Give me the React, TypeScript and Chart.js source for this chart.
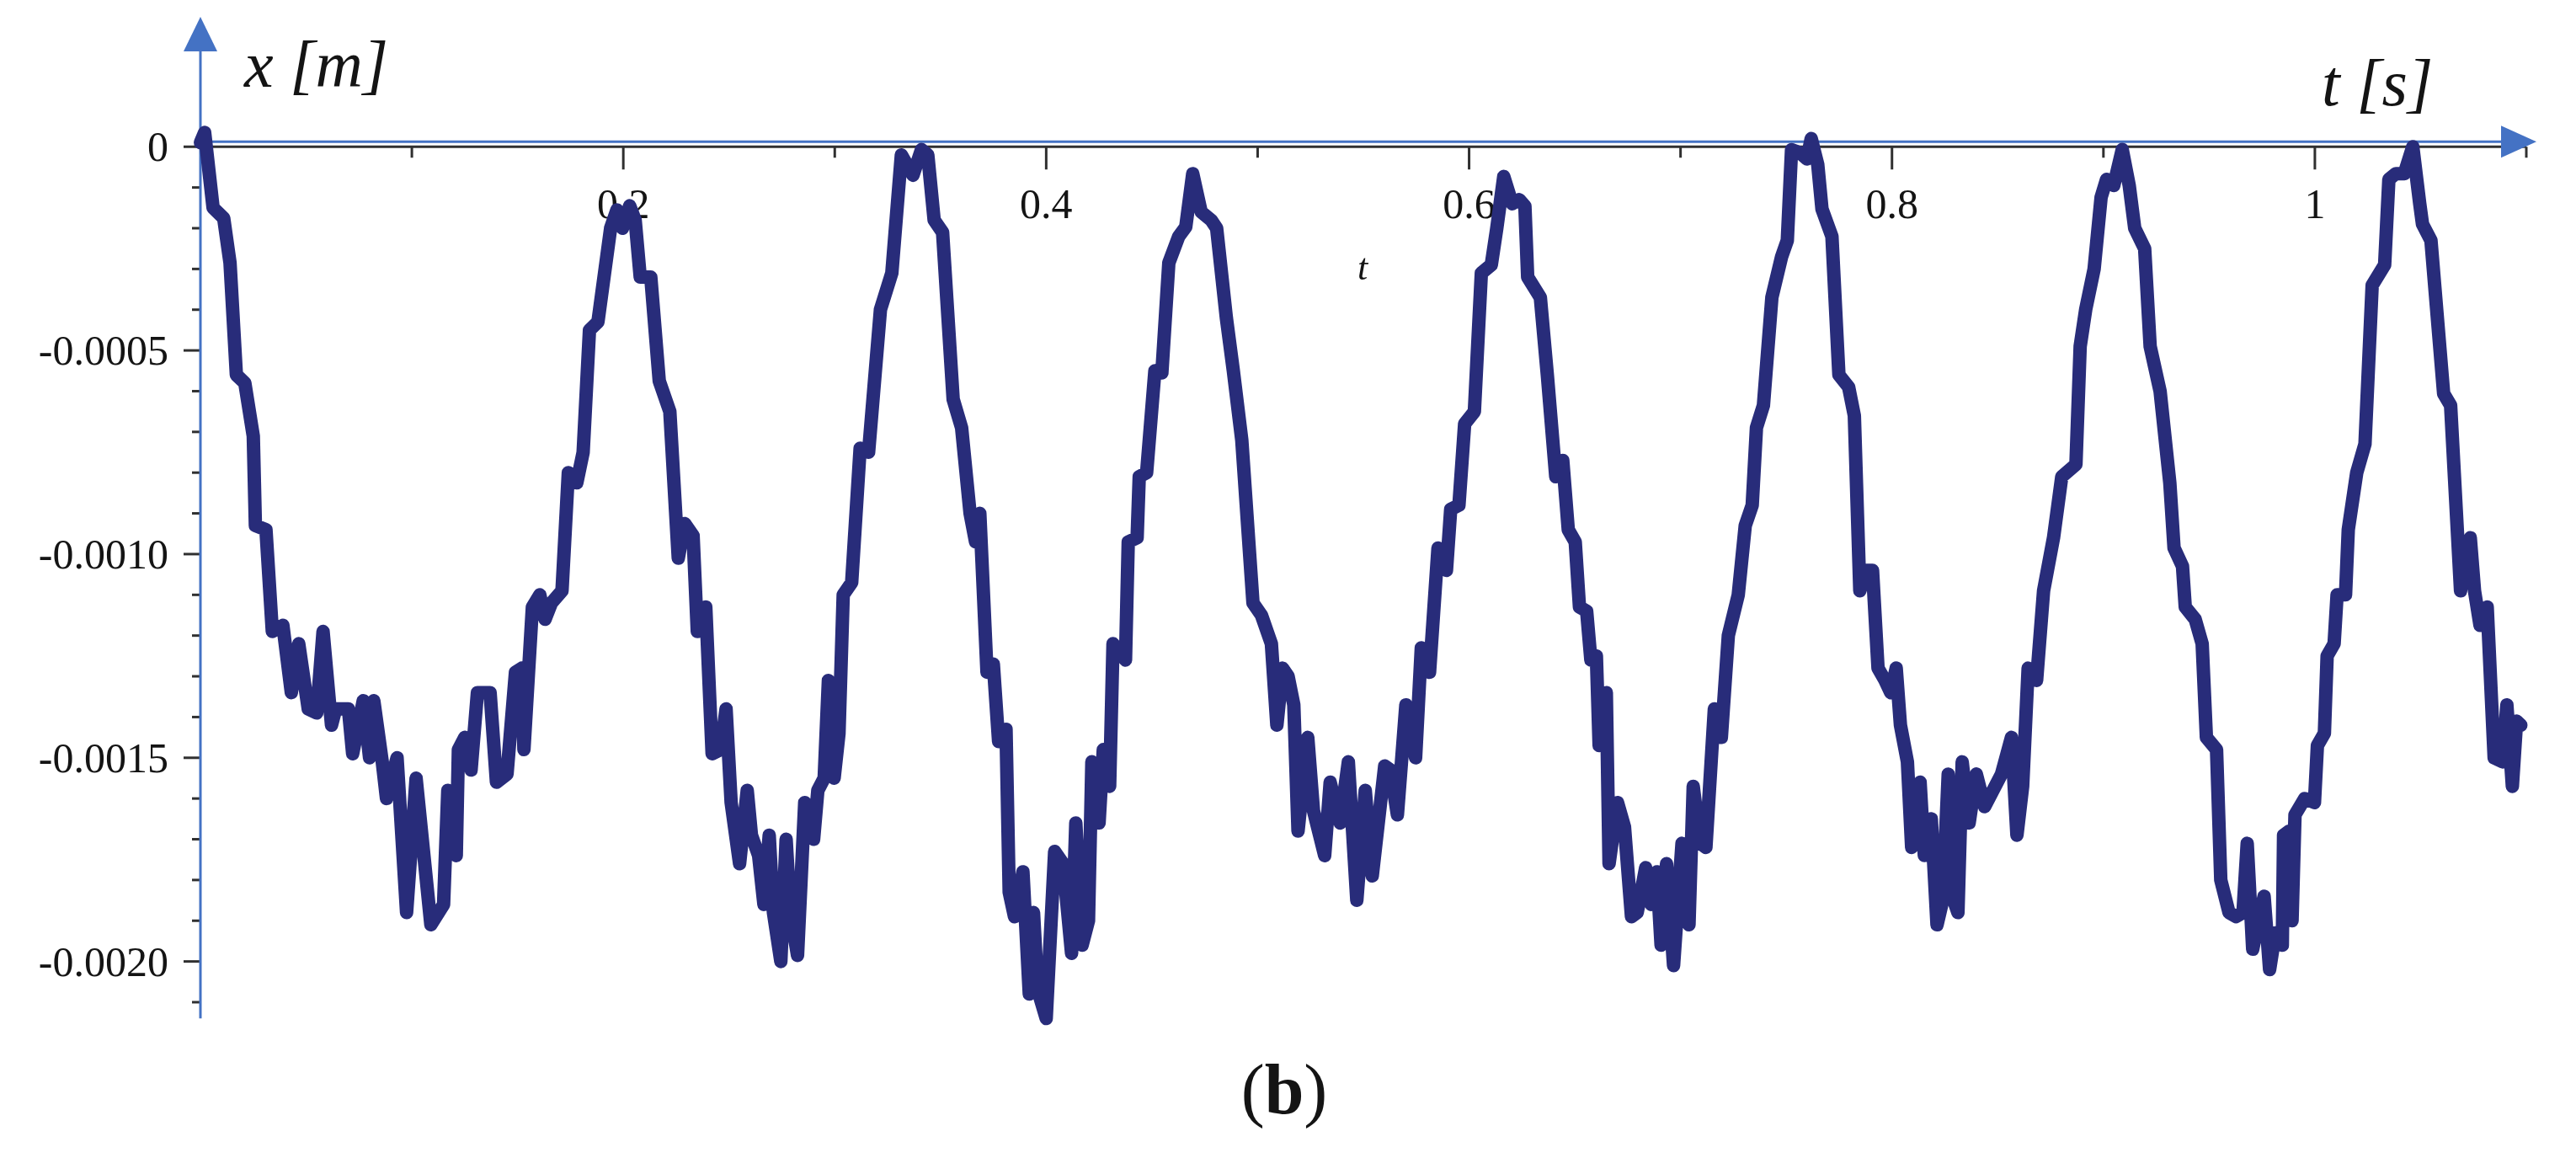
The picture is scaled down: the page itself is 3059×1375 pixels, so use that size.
import React, { useEffect, useRef } from 'react';
import { Chart, registerables } from 'chart.js';

Chart.register(...registerables);

// time t [s]
const timeS = [
  0.000, 0.002, 0.006, 0.011, 0.014, 0.017, 0.021, 0.025, 0.026, 0.031,
  0.034, 0.039, 0.043, 0.0465, 0.051, 0.055, 0.058, 0.062, 0.064, 0.070,
  0.072, 0.077, 0.080, 0.082, 0.086, 0.088, 0.093, 0.0975, 0.102, 0.109,
  0.115, 0.117, 0.121, 0.122, 0.125, 0.128, 0.131, 0.137, 0.140, 0.145,
  0.149, 0.152, 0.153, 0.157, 0.1605, 0.163, 0.166, 0.171, 0.174, 0.178,
  0.181, 0.184, 0.188, 0.194, 0.197, 0.1996, 0.203, 0.2056, 0.208, 0.213,
  0.217, 0.222, 0.226, 0.229, 0.233, 0.235, 0.239, 0.242, 0.246, 0.2486,
  0.251, 0.255, 0.2586, 0.2606, 0.264, 0.2665, 0.269, 0.271, 0.2745, 0.277,
  0.279, 0.2824, 0.2858, 0.290, 0.292, 0.295, 0.297, 0.2997, 0.302, 0.304,
  0.308, 0.312, 0.316, 0.3216, 0.327, 0.3315, 0.337, 0.341, 0.344, 0.347,
  0.351, 0.356, 0.360, 0.364, 0.3666, 0.3686, 0.372, 0.375, 0.3775, 0.381,
  0.3825, 0.385, 0.389, 0.392, 0.394, 0.396, 0.400, 0.404, 0.408, 0.412,
  0.414, 0.417, 0.420, 0.4216, 0.425, 0.427, 0.430, 0.4316, 0.4375, 0.4388,
  0.443, 0.444, 0.4475, 0.4514, 0.4547, 0.458, 0.4627, 0.466, 0.4693, 0.4733,
  0.478, 0.4806, 0.4852, 0.4885, 0.4925, 0.4978, 0.5018, 0.5065, 0.5091, 0.5118,
  0.5144, 0.5171, 0.5191, 0.5237, 0.5264, 0.5317, 0.5343, 0.539, 0.5429, 0.5469,
  0.5509, 0.5542, 0.5601, 0.5628, 0.5661, 0.5701, 0.5747, 0.5774, 0.5813, 0.5853,
  0.5893, 0.5913, 0.5952, 0.5979, 0.6025, 0.6058, 0.6105, 0.6131, 0.6164, 0.6204,
  0.6237, 0.6264, 0.6277, 0.6337, 0.637, 0.641, 0.6443, 0.6469, 0.6502, 0.6522,
  0.6556, 0.6576, 0.6602, 0.6615, 0.6649, 0.6662, 0.6702, 0.6735, 0.6768, 0.6795,
  0.6835, 0.6861, 0.6888, 0.6908, 0.6934, 0.6967, 0.7007, 0.704, 0.706, 0.7093,
  0.712, 0.716, 0.7193, 0.7226, 0.7273, 0.7306, 0.7339, 0.7359, 0.7392, 0.7432,
  0.7478, 0.7505, 0.7525, 0.7565, 0.7598, 0.7618, 0.7649, 0.7669, 0.7716, 0.7749,
  0.7795, 0.7822, 0.7848, 0.7881, 0.7908, 0.7934, 0.7967, 0.7994, 0.802, 0.804,
  0.8073, 0.8093, 0.8133, 0.8153, 0.8186, 0.8213, 0.824, 0.8266, 0.8292, 0.8312,
  0.8332, 0.8365, 0.8399, 0.8438, 0.8518, 0.8565, 0.8591, 0.8618, 0.8644, 0.8684,
  0.8717, 0.8764, 0.8803, 0.887, 0.889, 0.8916, 0.8956, 0.8989, 0.9015, 0.9049,
  0.9089, 0.9122, 0.9148, 0.9195, 0.9221, 0.9268, 0.9314, 0.9334, 0.9374, 0.9387,
  0.9434, 0.9467, 0.9487, 0.9535, 0.9555, 0.9594, 0.9627, 0.966, 0.968, 0.9706,
  0.9733, 0.976, 0.9786, 0.9813, 0.9846, 0.9852, 0.9879, 0.9892, 0.9906, 0.9952,
  0.9998, 1.0012, 1.0045, 1.0058, 1.0091, 1.0105, 1.0145, 1.0158, 1.0198, 1.0237,
  1.0271, 1.033, 1.035, 1.0383, 1.0423, 1.0463, 1.0496, 1.0509, 1.0549, 1.0609,
  1.0642, 1.0689, 1.0735, 1.0755, 1.0781, 1.0815, 1.0848, 1.0888, 1.0908, 1.0934,
  1.0954, 1.0974,
];

// displacement x, in units of 1e-4 m
const displacementE4 = [
  0.1, 0.35, -1.5, -1.75, -2.85, -5.6, -5.8, -7.1, -9.3, -9.4,
  -11.9, -11.75, -13.4, -12.2, -13.8, -13.9, -11.9, -14.2, -13.8, -13.8,
  -14.9, -13.6, -15.0, -13.6, -15.1, -16.0, -15.0, -18.8, -15.5, -19.1,
  -18.6, -15.8, -17.4, -14.8, -14.5, -15.3, -13.4, -13.4, -15.6, -15.4,
  -12.9, -12.8, -14.8, -11.3, -11.0, -11.6, -11.2, -10.9, -8.0, -8.25,
  -7.5, -4.5, -4.3, -2.0, -1.55, -2.0, -1.45, -1.8, -3.2, -3.2,
  -5.75, -6.5, -10.1, -9.25, -9.55, -11.9, -11.3, -14.9, -14.8, -13.8,
  -16.1, -17.6, -15.8, -16.9, -17.4, -18.6, -16.9, -18.8, -20.0, -17.0,
  -18.8, -19.85, -16.1, -17.0, -15.8, -15.5, -13.1, -15.5, -14.4, -11.0,
  -10.7, -7.4, -7.5, -4.0, -3.1, -0.2, -0.7, -0.07, -0.2, -1.8,
  -2.1, -6.2, -6.9, -9.0, -9.7, -9.0, -12.9, -12.7, -14.6, -14.3,
  -18.3, -18.9, -17.8, -20.8, -18.8, -20.7, -21.4, -17.3, -17.6, -19.8,
  -16.6, -19.6, -19.0, -15.1, -16.6, -14.8, -15.7, -12.2, -12.6, -9.7,
  -9.6, -8.1, -8.0, -5.5, -5.55, -2.85, -2.2, -1.97, -0.66, -1.6,
  -1.8, -2.0, -4.2, -5.5, -7.2, -11.2, -11.5, -12.2, -14.2, -12.8,
  -13.0, -13.7, -16.8, -14.5, -16.3, -17.4, -15.6, -16.6, -15.1, -18.5,
  -15.8, -17.9, -15.2, -15.3, -16.4, -13.7, -15.0, -12.3, -12.9, -9.85,
  -10.4, -8.9, -8.8, -6.8, -6.5, -3.1, -2.9, -2.0, -0.73, -1.4,
  -1.3, -1.46, -3.2, -3.7, -5.6, -8.1, -7.7, -9.4, -9.7, -11.3,
  -11.4, -12.6, -12.5, -14.7, -13.4, -17.6, -16.1, -16.7, -18.9, -18.8,
  -17.7, -18.6, -17.8, -19.6, -17.6, -20.1, -17.1, -19.1, -15.7, -17.1,
  -17.2, -13.8, -14.5, -12.0, -11.0, -9.3, -8.8, -6.9, -6.35, -3.7,
  -2.7, -2.3, -0.07, -0.15, -0.3, 0.2, -0.44, -1.53, -2.2, -5.6,
  -5.9, -6.6, -10.9, -10.4, -10.4, -12.8, -13.1, -13.4, -12.8, -14.2,
  -15.1, -17.2, -15.6, -17.4, -16.5, -19.1, -18.5, -15.4, -18.5, -18.8,
  -15.1, -16.6, -15.4, -16.2, -15.4, -14.5, -16.9, -15.7, -12.8, -13.1,
  -10.9, -9.6, -8.1, -7.8, -4.9, -4.0, -3.0, -1.24, -0.8, -0.95,
  -0.07, -0.95, -2.0, -2.5, -4.9, -6.0, -8.25, -9.85, -10.3, -11.3,
  -11.6, -12.2, -14.5, -14.8, -18.0, -18.8, -18.9, -18.8, -17.1, -19.7,
  -19.0, -18.4, -20.2, -19.3, -19.6, -16.9, -16.8, -19.0, -16.4, -16.0,
  -16.1, -14.7, -14.4, -12.5, -12.2, -11.0, -11.0, -9.4, -8.0, -7.3,
  -3.4, -2.9, -0.8, -0.66, -0.66, 0.0, -1.4, -1.9, -2.3, -6.06,
  -6.35, -10.9, -9.6, -10.9, -11.75, -11.3, -15.0, -15.1, -13.7, -15.7,
  -14.1, -14.2,
];
const DISPLACEMENT_UNIT = 1e-4;

const xTickValues = [0.2, 0.4, 0.6, 0.8, 1];
const xTickLabels = ['0.2', '0.4', '0.6', '0.8', '1'];
const yTickValues = [0, -0.0005, -0.001, -0.0015, -0.002];
const yTickLabels = ['0', '-0.0005', '-0.0010', '-0.0015', '-0.0020'];

const yAxisTitle = 'x [m]';
const xAxisTitle = 't [s]';
const xAxisSmallLabel = 't';
const panelLetter = 'b';

const W = 3059;
const H = 1375;
const BLUE = '#4472C4';
const AXIS_DARK = '#303030';
const CURVE = '#282C7A';
const TEXT = '#141414';
const FONT = '"Liberation Serif", "Times New Roman", serif';

const decorPlugin = {
  id: 'decor',
  beforeDatasetsDraw(chart: any) {
    const { ctx, scales } = chart;
    const xs = scales.x;
    const ys = scales.y;
    const x0 = xs.getPixelForValue(0);
    const y0 = ys.getPixelForValue(0);
    ctx.save();
    ctx.lineCap = 'butt';
    // dark axis line and ticks
    ctx.strokeStyle = AXIS_DARK;
    ctx.lineWidth = 3;
    ctx.beginPath();
    ctx.moveTo(x0, y0);
    ctx.lineTo(xs.getPixelForValue(1.1), y0);
    ctx.stroke();
    for (let k = 1; k <= 11; k++) {
      const px = xs.getPixelForValue(k / 10);
      const len = k % 2 === 0 ? 27 : 13;
      ctx.beginPath();
      ctx.moveTo(px, y0);
      ctx.lineTo(px, y0 + len);
      ctx.stroke();
    }
    for (let k = 0; k <= 21; k++) {
      const py = ys.getPixelForValue(-k * 0.0001);
      const len = k % 5 === 0 ? 20 : 10;
      ctx.beginPath();
      ctx.moveTo(x0 - len, py);
      ctx.lineTo(x0, py);
      ctx.stroke();
    }
    // blue arrows
    ctx.strokeStyle = BLUE;
    ctx.fillStyle = BLUE;
    ctx.lineWidth = 3;
    ctx.beginPath();
    ctx.moveTo(x0, 55);
    ctx.lineTo(x0, ys.getPixelForValue(-0.00214));
    ctx.stroke();
    ctx.beginPath();
    ctx.moveTo(x0, 20);
    ctx.lineTo(x0 - 20, 61);
    ctx.lineTo(x0 + 20, 61);
    ctx.closePath();
    ctx.fill();
    const yb = y0 - 6;
    ctx.beginPath();
    ctx.moveTo(x0, yb);
    ctx.lineTo(2975, yb);
    ctx.stroke();
    ctx.beginPath();
    ctx.moveTo(3012, yb);
    ctx.lineTo(2970, yb - 19);
    ctx.lineTo(2970, yb + 19);
    ctx.closePath();
    ctx.fill();
    ctx.restore();
  },
  afterDraw(chart: any) {
    const { ctx } = chart;
    ctx.save();
    ctx.fillStyle = TEXT;
    ctx.textAlign = 'left';
    ctx.textBaseline = 'alphabetic';
    ctx.font = `italic 78px ${FONT}`;
    ctx.fillText(yAxisTitle, 290, 103);
    ctx.fillText(xAxisTitle, 2757, 125);
    ctx.font = `italic 44px ${FONT}`;
    ctx.fillText(xAxisSmallLabel, 1612, 332);
    // (b)
    const size = 84;
    ctx.font = `${size}px ${FONT}`;
    const wL = ctx.measureText('(').width;
    const wR = ctx.measureText(')').width;
    ctx.font = `bold ${size}px ${FONT}`;
    const wB = ctx.measureText(panelLetter).width;
    let sx = 1525 - (wL + wB + wR) / 2;
    const by = 1322;
    ctx.font = `${size}px ${FONT}`;
    ctx.fillText('(', sx, by);
    sx += wL;
    ctx.font = `bold ${size}px ${FONT}`;
    ctx.fillText(panelLetter, sx, by);
    sx += wB;
    ctx.font = `${size}px ${FONT}`;
    ctx.fillText(')', sx, by);
    ctx.restore();
  },
};

export default function App() {
  const canvasRef = useRef<HTMLCanvasElement | null>(null);

  useEffect(() => {
    document.body.style.margin = '0';
    document.body.style.overflow = 'hidden';
    const canvas = canvasRef.current;
    if (!canvas) return;
    const points = timeS.map((t, i) => ({ x: t, y: displacementE4[i] * DISPLACEMENT_UNIT }));
    const chart = new Chart(canvas, {
      type: 'line',
      data: {
        datasets: [
          {
            data: points,
            borderColor: CURVE,
            borderWidth: 16,
            pointRadius: 0,
            tension: 0,
            fill: false,
            borderJoinStyle: 'round',
            borderCapStyle: 'round',
            clip: false,
          } as any,
        ],
      },
      options: {
        animation: false,
        responsive: false,
        maintainAspectRatio: false,
        devicePixelRatio: 1,
        events: [],
        layout: { padding: { left: 0, right: 59, top: 63, bottom: 185 } },
        plugins: { legend: { display: false }, tooltip: { enabled: false }, title: { display: false } },
        scales: {
          x: {
            type: 'linear',
            position: { y: 0 } as any,
            min: 0,
            max: 1.1,
            grid: { display: false, drawTicks: false },
            border: { display: false },
            afterBuildTicks: (scale: any) => {
              scale.ticks = xTickValues.map((v) => ({ value: v }));
            },
            afterFit: (scale: any) => {
              scale.paddingLeft = 0;
              scale.paddingRight = 0;
            },
            ticks: {
              padding: 42,
              maxRotation: 0,
              autoSkip: false,
              color: TEXT,
              font: { family: FONT, size: 50 },
              callback: (value: any) => {
                const i = xTickValues.indexOf(Number(value));
                return i >= 0 ? xTickLabels[i] : '';
              },
            },
          },
          y: {
            type: 'linear',
            position: 'left',
            min: -0.0021,
            max: 0.00023,
            grid: { display: false, drawTicks: false },
            border: { display: false },
            afterBuildTicks: (scale: any) => {
              scale.ticks = yTickValues.map((v) => ({ value: v }));
            },
            afterFit: (scale: any) => {
              scale.width = 238;
              scale.paddingTop = 0;
              scale.paddingBottom = 0;
            },
            ticks: {
              padding: 38,
              labelOffset: 4,
              autoSkip: false,
              color: TEXT,
              font: { family: FONT, size: 50 },
              callback: (value: any) => {
                const i = yTickValues.indexOf(Number(value));
                return i >= 0 ? yTickLabels[i] : '';
              },
            },
          },
        },
      } as any,
      plugins: [decorPlugin],
    });
    return () => chart.destroy();
  }, []);

  return (
    <div style={{ position: 'absolute', left: 0, top: 0, width: W, height: H, background: '#fff' }}>
      <canvas ref={canvasRef} width={W} height={H} style={{ display: 'block', width: W, height: H }} />
    </div>
  );
}
